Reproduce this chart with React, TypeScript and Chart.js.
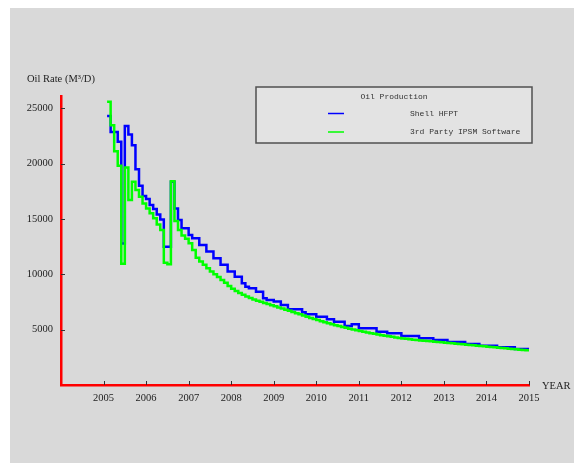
import React, { useEffect, useRef } from "react";
import { Chart, registerables } from "chart.js";

Chart.register(...registerables);

// Monthly series, first value = February 2005, last = January 2015
const FIRST_YEAR = 2005;
const FIRST_MONTH = 2;

const xTickYears = [2005, 2006, 2007, 2008, 2009, 2010, 2011, 2012, 2013, 2014, 2015];
const yTickValues = [5000, 10000, 15000, 20000, 25000];

const seriesNames = ["Shell HFPT", "3rd Party IPSM Software"];

const shellHFPT = [
  24300, 22860, 22860, 21960, 12790, 23400, 22630, 21660, 19490, 17990, 17060, 16800,
  16250, 15900, 15400, 14950, 12480, 12480, 18350, 15950, 14900, 14150, 14150, 13550,
  13250, 13250, 12650, 12650, 12050, 12050, 11450, 11450, 10850, 10850, 10250, 10250,
  9780, 9780, 9200, 8880, 8730, 8730, 8420, 8420, 7830, 7680, 7680, 7530,
  7530, 7230, 7230, 6850, 6850, 6850, 6850, 6560, 6380, 6380, 6380, 6160,
  6160, 6160, 5930, 5930, 5710, 5710, 5710, 5330, 5330, 5480, 5480, 5115,
  5115, 5115, 5115, 5115, 4810, 4810, 4810, 4665, 4665, 4665, 4665, 4420,
  4420, 4420, 4420, 4420, 4215, 4215, 4215, 4215, 4060, 4060, 4060, 4060,
  3880, 3880, 3880, 3880, 3880, 3700, 3700, 3700, 3700, 3550, 3550, 3550,
  3550, 3550, 3400, 3400, 3400, 3400, 3400, 3250, 3250, 3250, 3250, 3250,
];

const ipsmSoftware = [
  25570, 23450, 21100, 19800, 10950, 19650, 16700, 18350, 17600, 17000, 16400, 15950,
  15500, 15050, 14500, 14000, 11050, 10900, 18400, 14800, 14000, 13500, 13200, 12800,
  12200, 11500, 11150, 10850, 10550, 10250, 10000, 9750, 9480, 9230, 8950, 8700,
  8480, 8300, 8150, 8000, 7850, 7720, 7610, 7510, 7410, 7310, 7210, 7110,
  7010, 6900, 6800, 6700, 6600, 6490, 6380, 6270, 6160, 6060, 5960, 5860,
  5760, 5660, 5570, 5480, 5400, 5320, 5240, 5160, 5080, 5010, 4940, 4870,
  4800, 4740, 4680, 4620, 4560, 4500, 4450, 4400, 4350, 4300, 4250, 4210,
  4170, 4130, 4090, 4060, 4030, 4000, 3970, 3940, 3910, 3880, 3850, 3820,
  3790, 3760, 3730, 3700, 3670, 3640, 3610, 3580, 3550, 3520, 3490, 3460,
  3430, 3400, 3370, 3340, 3310, 3280, 3250, 3220, 3190, 3160, 3130, 3130,
];

const toPoints = (vals: number[]) =>
  vals.map((v, i) => ({ x: FIRST_YEAR + (FIRST_MONTH - 1 + i) / 12, y: v }));

const SERIF = "'Liberation Serif', 'Times New Roman', serif";
const MONO = "'Liberation Mono', 'DejaVu Sans Mono', monospace";

const decorPlugin = {
  id: "decor",
  afterDraw(chart: any) {
    const ctx = chart.ctx as CanvasRenderingContext2D;
    const area = chart.chartArea;
    const xs = chart.scales.x;
    const ys = chart.scales.y;
    ctx.save();
    // inner tick marks
    ctx.strokeStyle = "#333333";
    ctx.lineWidth = 1;
    ctx.beginPath();
    xTickYears.forEach((yr) => {
      const px = Math.round(xs.getPixelForValue(yr)) + 0.5;
      ctx.moveTo(px, area.bottom);
      ctx.lineTo(px, area.bottom - 4);
    });
    yTickValues.forEach((v) => {
      const py = Math.round(ys.getPixelForValue(v)) + 0.5;
      ctx.moveTo(area.left, py);
      ctx.lineTo(area.left + 4, py);
    });
    ctx.stroke();

    // axis titles
    ctx.fillStyle = "#222222";
    ctx.font = `10.5px ${SERIF}`;
    ctx.textAlign = "left";
    ctx.textBaseline = "middle";
    ctx.fillText("Oil Rate (M\u00B3/D)", 17, 71);
    ctx.fillText("YEAR", 532, 378);

    // legend box
    const bx = 246, by = 79, bw = 276, bh = 56;
    ctx.fillStyle = "#e3e3e3";
    ctx.fillRect(bx, by, bw, bh);
    ctx.strokeStyle = "#505050";
    ctx.lineWidth = 1.5;
    ctx.strokeRect(bx, by, bw, bh);

    ctx.font = `8px ${MONO}`;
    ctx.fillStyle = "#333333";
    ctx.textAlign = "center";
    ctx.fillText("Oil Production", 384, 89);
    ctx.textAlign = "left";
    const rows = [
      { y: 105.5, color: "#0000ff", label: seriesNames[0] },
      { y: 124, color: "#00ff00", label: seriesNames[1] },
    ];
    rows.forEach((r) => {
      ctx.strokeStyle = r.color;
      ctx.lineWidth = 1.5;
      ctx.beginPath();
      ctx.moveTo(318, r.y);
      ctx.lineTo(334, r.y);
      ctx.stroke();
      ctx.fillStyle = "#333333";
      ctx.fillText(r.label, 400, r.y);
    });
    ctx.restore();
  },
};

export default function App() {
  const ref = useRef<HTMLCanvasElement>(null);
  useEffect(() => {
    const chart = new Chart(ref.current as HTMLCanvasElement, {
      type: "line",
      data: {
        datasets: [
          {
            label: seriesNames[0],
            data: toPoints(shellHFPT),
            borderColor: "#0000ff",
            backgroundColor: "#0000ff",
            borderWidth: 2.5,
            stepped: "before",
            pointRadius: 0,
            fill: false,
            order: 1,
          },
          {
            label: seriesNames[1],
            data: toPoints(ipsmSoftware),
            borderColor: "#00ff00",
            backgroundColor: "#00ff00",
            borderWidth: 2.5,
            stepped: "before",
            pointRadius: 0,
            fill: false,
            order: 0,
          },
        ],
      } as any,
      options: {
        animation: false,
        responsive: false,
        maintainAspectRatio: false,
        layout: { padding: { left: 0, top: 88, right: 45, bottom: 0 } },
        plugins: { legend: { display: false }, tooltip: { enabled: false } },
        scales: {
          x: {
            type: "linear",
            min: 2004,
            max: 2015,
            afterBuildTicks: (s: any) => {
              s.ticks = xTickYears.map((v) => ({ value: v }));
            },
            afterFit: (s: any) => {
              s.height = 78;
            },
            grid: { display: false, drawTicks: false },
            border: { display: true, color: "#ff0000", width: 2.5 },
            ticks: {
              padding: 7,
              color: "#222222",
              autoSkip: false,
              maxRotation: 0,
              font: { family: SERIF, size: 10.5 },
              callback: (v: any) => String(v),
            },
          },
          y: {
            type: "linear",
            min: 0,
            max: 26100,
            afterBuildTicks: (s: any) => {
              s.ticks = yTickValues.map((v) => ({ value: v }));
            },
            afterFit: (s: any) => {
              s.width = 51;
            },
            grid: { display: false, drawTicks: false },
            border: { display: true, color: "#ff0000", width: 2.5 },
            ticks: {
              padding: 8,
              color: "#222222",
              font: { family: SERIF, size: 10.5 },
              callback: (v: any) => String(v),
            },
          },
        },
      } as any,
      plugins: [decorPlugin],
    });
    return () => chart.destroy();
  }, []);

  return (
    <div
      style={{
        position: "absolute",
        left: 10,
        top: 8,
        width: 564,
        height: 455,
        background: "#d9d9d9",
      }}
    >
      <canvas ref={ref} width={564} height={455} style={{ display: "block" }} />
    </div>
  );
}
